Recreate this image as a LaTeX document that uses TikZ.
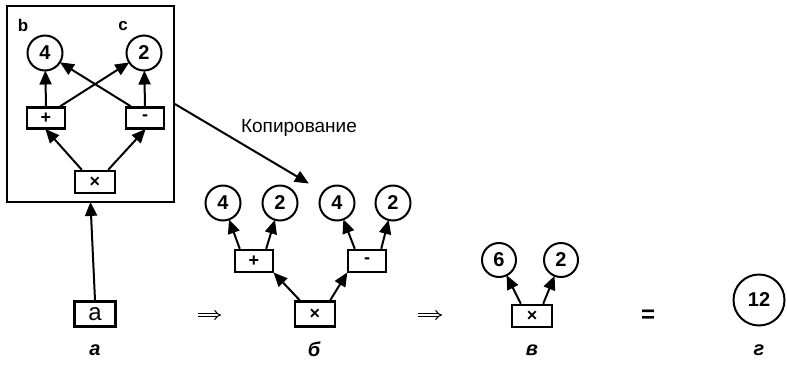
\documentclass[tikz,border=0pt]{standalone}
\usepackage{fontspec}
\setmainfont{Liberation Sans}
\usetikzlibrary{arrows.meta}
\begin{document}
\begin{tikzpicture}[x=1pt,y=-1pt,
  val/.style={draw,circle,line width=2pt,minimum size=35pt,inner sep=0pt,font=\fontsize{20}{20}\selectfont\bfseries},
  opbox/.style={draw,rectangle,line width=2.4pt,minimum width=38pt,minimum height=21pt,inner sep=0pt,font=\fontsize{18}{18}\selectfont\bfseries},
  arr/.style={line width=2pt,-{Triangle[length=14pt,width=12pt]},shorten >=-1pt},
  implarr/.style={double,double distance=2.2pt,line width=1.1pt,-{Implies[length=6pt,width=10pt]}},
  panellbl/.style={font=\fontsize{20}{20}\selectfont\bfseries\itshape},
  lbl/.style={font=\fontsize{17}{17}\selectfont\bfseries}]
\useasboundingbox (0,0) rectangle (787,365);

% panel a: frame with graph
\node[draw,line width=1.8pt,minimum width=167pt,minimum height=196pt,inner sep=0pt] (frame) at (90.5,104) {};
\node[lbl] (lb) at (23,25) {b};
\node[lbl] (lc) at (123,26) {c};
\node[val] (a4) at (45,53) {4};
\node[val] (a2) at (144,53) {2};
\node[opbox] (aplus) at (46,118) {+};
\node[opbox] (aminus) at (145,118) {-};
\node[opbox,minimum width=40pt,minimum height=22pt] (atimes) at (95,182) {×};
\draw[arr] (aplus.north) -- (a4);
\draw[arr] (aminus.north) -- (a2);
\draw[arr] (aplus.north east) ++(-6,0) -- (a2);
\draw[arr] (aminus.north west) ++(6,0) -- (a4);
\draw[arr] (atimes.north west) ++(8,0) -- (aplus.south);
\draw[arr] (atimes.north east) ++(-8,0) -- (aminus.south);

\node[opbox,minimum width=41pt,minimum height=25pt,font=\fontsize{24}{24}\selectfont] (abox) at (95,314) {a};
\draw[arr] (abox.north) -- (frame.south);
\node[panellbl] (la) at (95,350) {а};

% copy arrow
\node[font=\fontsize{19}{19}\selectfont] (copy) at (299,128) {Копирование};
\coordinate (copytip) at (308,183);
\draw[arr] (frame.east) -- (copytip);

\coordinate (i1a) at (198,315);
\coordinate (i1b) at (221,315);
\draw[implarr] (i1a) -- (i1b);

% panel b
\node[val] (b4a) at (223,203) {4};
\node[val] (b2a) at (280,203) {2};
\node[val] (b4b) at (337,203) {4};
\node[val] (b2b) at (393,203) {2};
\node[opbox,minimum height=22pt] (bplus) at (254,261) {+};
\node[opbox,minimum height=22pt] (bminus) at (367,261) {-};
\node[opbox,minimum width=40pt,minimum height=25pt] (btimes) at (315,314) {×};
\draw[arr] (bplus.north west) ++(6,0) -- (b4a);
\draw[arr] (bplus.north east) ++(-8,0) -- (b2a);
\draw[arr] (bminus.north west) ++(8,0) -- (b4b);
\draw[arr] (bminus.north east) ++(-6,0) -- (b2b);
\draw[arr] (btimes.north west) ++(6,0) -- (bplus.south east);
\draw[arr] (btimes.north east) ++(-6,0) -- (bminus.south west);
\node[panellbl] (lbb) at (314,349) {б};

\coordinate (i2a) at (418,315);
\coordinate (i2b) at (442,315);
\draw[implarr] (i2a) -- (i2b);

% panel v
\node[val,minimum size=34pt] (c6) at (499,260) {6};
\node[val,minimum size=34pt] (c2) at (561,260) {2};
\node[opbox,minimum width=40pt,minimum height=22pt] (ctimes) at (532,316) {×};
\draw[arr] (ctimes.north west) ++(10,0) -- (c6);
\draw[arr] (ctimes.north east) ++(-10,0) -- (c2);
\node[panellbl] (lv) at (532,350) {в};

\node[font=\fontsize{24}{24}\selectfont\bfseries] (i3) at (648,316) {=};

% panel g
\node[val,minimum size=51pt] (d12) at (759,300) {12};
\node[panellbl] (lg) at (759,350) {г};
\end{tikzpicture}
\end{document}
